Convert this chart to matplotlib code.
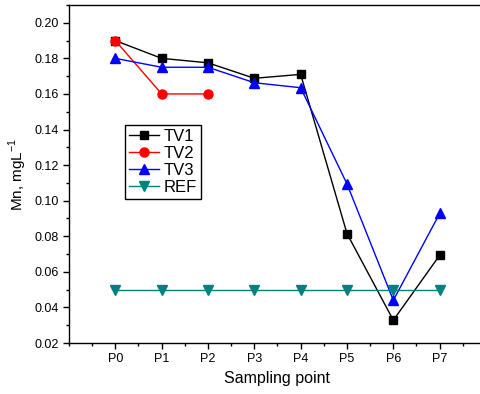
import matplotlib
matplotlib.use("Agg")
import matplotlib.pyplot as plt
from matplotlib.ticker import MultipleLocator

plt.rcParams['font.family'] = ['Liberation Sans', 'DejaVu Sans']

points = ["P0", "P1", "P2", "P3", "P4", "P5", "P6", "P7"]
tv1 = [0.190, 0.180, 0.1775, 0.1688, 0.1710, 0.0815, 0.0328, 0.0693]
tv2 = [0.190, 0.160, 0.160]
tv3 = [0.180, 0.175, 0.175, 0.1663, 0.1635, 0.1094, 0.0440, 0.0928]
ref = [0.05] * 8

fig = plt.figure(figsize=(4.81, 3.94), dpi=100)
ax = fig.add_axes([69/481, 51/394, 417/481, 338/394])

x = list(range(len(points)))
ax.plot(x, tv1, color='black', marker='s', ms=6, lw=1, label='TV1')
ax.plot(x[:len(tv2)], tv2, color='red', marker='o', ms=6.5, lw=1, label='TV2')
ax.plot(x, tv3, color='blue', marker='^', ms=7, lw=1, label='TV3')
ax.plot(x, ref, color='#008080', marker='v', ms=7, lw=1, label='REF')

ax.set_xlim(-1, 8)
ax.set_ylim(0.02, 0.21)
ax.set_xticks(x)
ax.set_xticklabels(points)
ax.xaxis.set_minor_locator(MultipleLocator(0.5))
ax.yaxis.set_major_locator(MultipleLocator(0.02))
ax.yaxis.set_minor_locator(MultipleLocator(0.01))
ax.yaxis.set_major_formatter(matplotlib.ticker.FormatStrFormatter('%.2f'))
ax.tick_params(which='major', direction='out', length=4, width=1, labelsize=9)
ax.tick_params(which='minor', direction='out', length=2.5, width=1)
for s in ax.spines.values():
    s.set_linewidth(1)

ax.set_xlabel('Sampling point', fontsize=11.5)
ax.set_ylabel(r'Mn, mgL$^{\mathregular{-1}}$', fontsize=11)

leg = ax.legend(loc='upper left', bbox_to_anchor=(0.134, 0.645), borderaxespad=0,
                fontsize=12, fancybox=False, edgecolor='black', framealpha=1,
                handlelength=1.8, handletextpad=0.3, labelspacing=0.12, borderpad=0.25)
leg.get_frame().set_linewidth(1)

fig.savefig('out.png', dpi=100)
